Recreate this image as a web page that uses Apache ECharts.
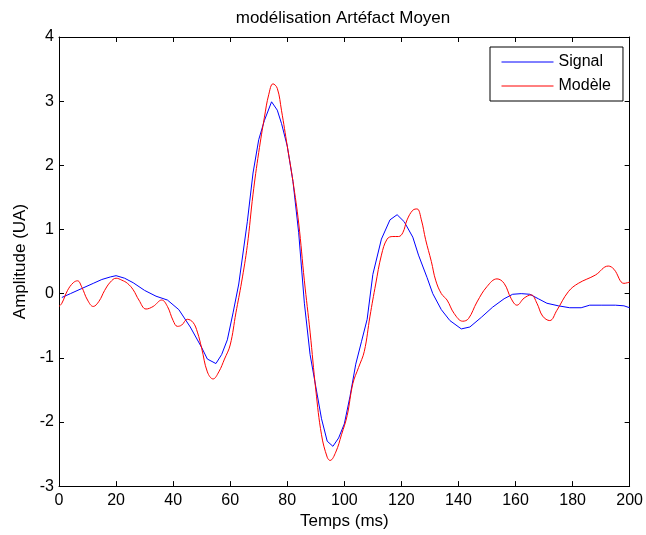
<!DOCTYPE html>
<html><head><meta charset="utf-8">
<script src="https://cdn.jsdelivr.net/npm/echarts@6/dist/echarts.min.js"></script>
<style>html,body{margin:0;padding:0;background:#fff}#c{width:646px;height:535px}</style>
</head><body><div id="c"></div>
<script>
const titleText = 'modélisation Artéfact Moyen';
const xName = 'Temps (ms)';
const yName = 'Amplitude (UA)';
const seriesNames = ['Signal', 'Modèle'];

const signalX = [1,4,8,12,15,18,20,23,26,30,34,38,42,46,50,52,55,57,59,61,63,66,68,70,72,74.5,76.5,78,80,82,84,86,88,90,92,94,96,98,100,102,104,106,108,110,113,116,118.5,121,124,126,129,131,134,137,141,144,148,152,156,159,162,165,168,171,175,179,183,186,190,195,198,200];
const signalY = [-0.06,0.0,0.08,0.16,0.22,0.26,0.28,0.24,0.17,0.05,-0.04,-0.1,-0.25,-0.52,-0.84,-1.02,-1.09,-0.95,-0.72,-0.3,0.15,1.12,1.88,2.4,2.7,2.99,2.86,2.65,2.3,1.75,0.95,-0.15,-0.95,-1.45,-1.95,-2.3,-2.38,-2.25,-2.03,-1.6,-1.1,-0.75,-0.4,0.3,0.85,1.15,1.23,1.12,0.88,0.6,0.25,0.0,-0.25,-0.42,-0.55,-0.52,-0.37,-0.21,-0.08,-0.01,0.0,-0.01,-0.08,-0.15,-0.19,-0.22,-0.22,-0.18,-0.18,-0.18,-0.19,-0.22];

const modelX = [0,1,3,5,6.5,8,10,12,14,16,18,20,22,24,26,28,30.5,33,36,38,40,41.5,43,45,47,48.5,50,52,54,56,58,60,62,64,66,68,70,72,73.5,75,76.5,78,80,82,84,86,88,90,92,94,95,97,99,101,103,105,107,109,111,113,115,117,119,120.5,122,124,125.5,127,128.5,130.5,132,134,136,138.5,141.5,143.5,146.5,150,153.5,156,158.5,160.5,163,165.5,167.5,169.5,172,174.5,178.5,182,188,192.5,194.5,198,200];
const modelY = [-0.2,-0.15,0.05,0.17,0.2,0.1,-0.1,-0.2,-0.12,0.05,0.18,0.24,0.21,0.16,0.06,-0.1,-0.24,-0.2,-0.1,-0.2,-0.42,-0.51,-0.49,-0.4,-0.45,-0.6,-0.85,-1.22,-1.33,-1.22,-1.02,-0.8,-0.3,0.18,0.75,1.55,2.2,2.75,3.1,3.27,3.2,2.85,2.3,1.75,1.1,0.2,-0.6,-1.5,-2.2,-2.55,-2.6,-2.47,-2.2,-1.9,-1.4,-1.15,-0.9,-0.35,0.15,0.6,0.85,0.89,0.89,0.95,1.15,1.3,1.32,1.15,0.84,0.5,0.21,0.0,-0.1,-0.31,-0.43,-0.39,-0.13,0.11,0.23,0.16,-0.08,-0.18,-0.07,-0.02,-0.15,-0.35,-0.42,-0.26,0.03,0.16,0.29,0.43,0.38,0.16,0.18];

const xTicks = [0,20,40,60,80,100,120,140,160,180,200];
const yTicks = [-3,-2,-1,0,1,2,3,4];

const font = 'Liberation Sans, Arial, sans-serif';
const pair = (xs, ys) => xs.map((x, i) => [x, ys[i]]);

const axisCommon = {
  type: 'value',
  axisLine: { show: true, onZero: false, lineStyle: { color: '#000', width: 1 } },
  axisTick: { show: true, inside: true, length: 5, lineStyle: { color: '#000' } },
  splitLine: { show: false }
};

const chart = echarts.init(document.getElementById('c'), null, { renderer: 'canvas' });
chart.setOption({
  backgroundColor: '#fff',
  animation: false,
  textStyle: { fontFamily: font },
  grid: { left: 59, right: 15, top: 37, bottom: 48, containLabel: false },
  graphic: [{
    type: 'text', x: 343, y: 10,
    style: { text: titleText, fontSize: 17, fill: '#000', fontFamily: font, align: 'center', verticalAlign: 'top' }
  }],
  legend: {
    data: seriesNames, orient: 'vertical', left: 490, top: 47,
    itemWidth: 52, itemHeight: 16, itemGap: 8,
    padding: [7, 12, 7, 11],
    itemStyle: { opacity: 0 },
    lineStyle: { width: 1 },
    borderColor: '#000', borderWidth: 1, backgroundColor: '#fff',
    textStyle: { fontSize: 16, color: '#000', fontFamily: font }
  },
  xAxis: [
    Object.assign({}, axisCommon, {
      position: 'bottom', min: 0, max: 200, interval: 20,
      name: xName, nameLocation: 'middle', nameGap: 25,
      nameTextStyle: { fontSize: 17, color: '#000', fontFamily: font },
      axisLabel: { show: true, margin: 6, fontSize: 16, color: '#000', fontFamily: font,
        formatter: v => xTicks.includes(v) ? String(v) : '' }
    }),
    Object.assign({}, axisCommon, {
      position: 'top', min: 0, max: 200, interval: 20, axisLabel: { show: false }
    })
  ],
  yAxis: [
    Object.assign({}, axisCommon, {
      position: 'left', min: -3, max: 4, interval: 1,
      name: yName, nameLocation: 'middle', nameGap: 28,
      nameTextStyle: { fontSize: 17, color: '#000', fontFamily: font },
      axisLabel: { show: true, margin: 5, fontSize: 16, color: '#000', fontFamily: font,
        formatter: v => yTicks.includes(v) ? String(v) : '' }
    }),
    Object.assign({}, axisCommon, {
      position: 'right', min: -3, max: 4, interval: 1, axisLabel: { show: false }
    })
  ],
  series: [
    { name: seriesNames[0], type: 'line', data: pair(signalX, signalY), symbol: 'none',
      smooth: false, lineStyle: { color: '#0000ff', width: 1 }, itemStyle: { color: '#0000ff' } },
    { name: seriesNames[1], type: 'line', data: pair(modelX, modelY), symbol: 'none',
      smooth: 0.4, lineStyle: { color: '#ff0000', width: 1 }, itemStyle: { color: '#ff0000' } }
  ]
});
</script></body></html>
